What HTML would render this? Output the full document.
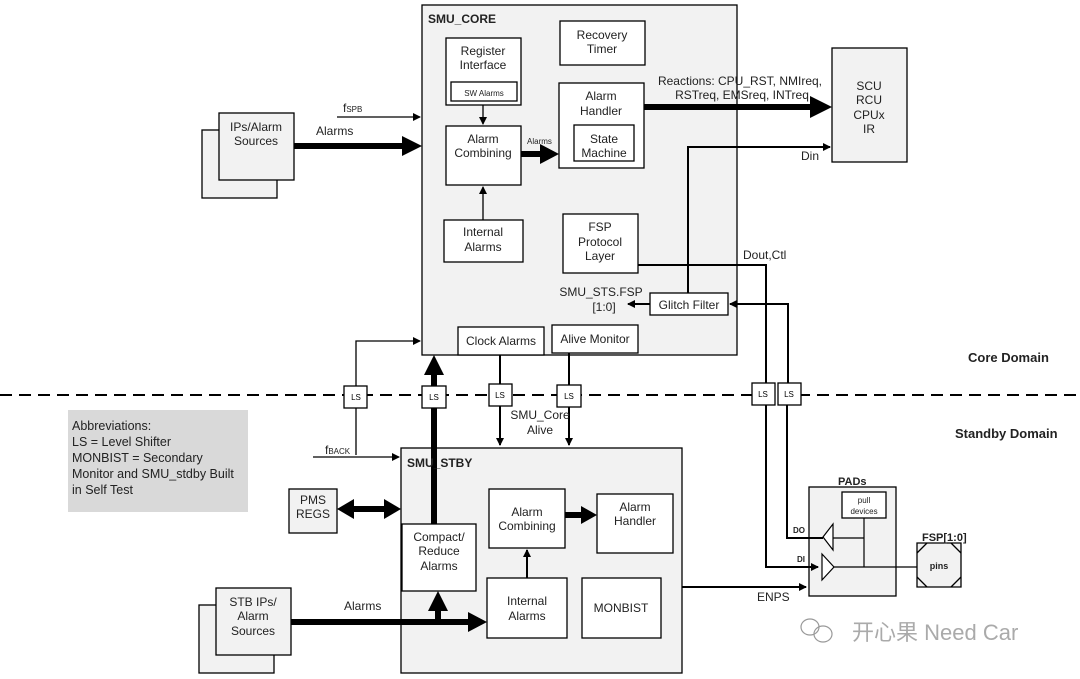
<!DOCTYPE html>
<html><head><meta charset="utf-8"><style>
html,body{margin:0;padding:0;background:#fff;}
svg{display:block;font-family:"Liberation Sans",Arial,sans-serif;}
</style></head><body>
<svg width="1080" height="679" viewBox="0 0 1080 679" xmlns="http://www.w3.org/2000/svg">
<defs>
<marker id="a" markerWidth="8" markerHeight="8" refX="7" refY="4" orient="auto" markerUnits="userSpaceOnUse"><path d="M0,0 L8,4 L0,8z" fill="#000"/></marker>
</defs>
<g fill="none" stroke="#000" stroke-width="1.3">
<rect x="422" y="5" width="315" height="350" fill="#f2f2f2"/>
<rect x="446" y="38" width="75" height="67" fill="#fff"/>
<rect x="451" y="82" width="66" height="19" fill="#fff"/>
<rect x="560" y="21" width="85" height="44" fill="#fff"/>
<rect x="559" y="83" width="85" height="85" fill="#fff"/>
<rect x="574" y="125" width="60" height="36" fill="#fff"/>
<rect x="446" y="126" width="75" height="59" fill="#fff"/>
<rect x="444" y="220" width="79" height="42" fill="#fff"/>
<rect x="563" y="214" width="75" height="59" fill="#fff"/>
<rect x="650" y="293" width="78" height="22" fill="#fff"/>
<rect x="458" y="327" width="86" height="28" fill="#fff"/>
<rect x="552" y="325" width="86" height="28" fill="#fff"/>
<rect x="202" y="130" width="75" height="68" fill="#f2f2f2"/>
<rect x="219" y="113" width="75" height="67" fill="#f2f2f2"/>
<rect x="832" y="48" width="75" height="114" fill="#f2f2f2"/>
<rect x="401" y="448" width="281" height="225" fill="#f2f2f2"/>
<rect x="289" y="489" width="48" height="44" fill="#f2f2f2"/>
<rect x="402" y="524" width="74" height="67" fill="#fff"/>
<rect x="489" y="489" width="76" height="59" fill="#fff"/>
<rect x="597" y="494" width="76" height="59" fill="#fff"/>
<rect x="487" y="578" width="80" height="60" fill="#fff"/>
<rect x="582" y="578" width="79" height="60" fill="#fff"/>
<rect x="199" y="605" width="75" height="68" fill="#f2f2f2"/>
<rect x="216" y="588" width="75" height="67" fill="#f2f2f2"/>
<rect x="809" y="487" width="87" height="109" fill="#f2f2f2"/>
<rect x="842" y="492" width="44" height="26" fill="#fff"/>
<path d="M917,543 H961 V587 H917 Z" fill="#f2f2f2"/>
<path d="M917,553 L927,543 M951,543 L961,553 M961,577 L951,587 M927,587 L917,577"/>
<path d="M337,117 H420" marker-end="url(#a)"/>
<path d="M483,105 V124" marker-end="url(#a)"/>
<path d="M483,220 V187" marker-end="url(#a)"/>
<path d="M356,455 V341 H420" marker-end="url(#a)"/>
<path d="M313,457 H399" marker-end="url(#a)"/>
<path d="M527,578 V550" marker-end="url(#a)" stroke-width="2"/>
</g>
<g fill="none" stroke="#000" stroke-width="2">
<path d="M638,265 H766 V567 H818" marker-end="url(#a)"/>
<path d="M788,395 V304 H730" marker-end="url(#a)"/>
<path d="M650,304 H628" marker-end="url(#a)"/>
<path d="M688,293 V147 H830" marker-end="url(#a)"/>
<path d="M787,400 V538 H823"/>
<path d="M500,355 V445" marker-end="url(#a)"/>
<path d="M569,353 V445" marker-end="url(#a)"/>
<path d="M682,587 H806" marker-end="url(#a)"/>
</g>
<g fill="none" stroke="#000" stroke-width="1.2">
<path d="M833,538 H864 M864,518 V567 M834,567 H917"/>
<path d="M823,537 L833,524 V550 Z" fill="#fff"/>
<path d="M834,567 L822,554 V580 Z" fill="#fff"/>
</g>
<g stroke="#000" stroke-width="6" fill="none">
<path d="M294,146 H404"/>
<path d="M521,154 H542"/>
<path d="M644,107 H812"/>
<path d="M434,524 V375"/>
<path d="M291,622 H470"/>
<path d="M438,622 V610"/>
<path d="M565,515 H583"/>
<path d="M352,509 H386"/>
</g>
<g fill="#000">
<path d="M402,136 L422,146 L402,156Z"/>
<path d="M540,144 L559,154 L540,164Z"/>
<path d="M810,96 L832,107 L810,118Z"/>
<path d="M424,375 L434,355 L444,375Z"/>
<path d="M468,612 L487,622 L468,632Z"/>
<path d="M428,611 L438,591 L448,611Z"/>
<path d="M581,506 L597,515 L581,524Z"/>
<path d="M337,509 L354,499 L354,519Z"/>
<path d="M401,509 L384,499 L384,519Z"/>
</g>
<path d="M0,395 H1080" stroke="#000" stroke-width="2" stroke-dasharray="12,7"/>
<g fill="#fff" stroke="#000" stroke-width="1.3">
<rect x="344" y="386" width="23" height="22"/>
<rect x="422" y="386" width="24" height="22"/>
<rect x="489" y="384" width="23" height="22"/>
<rect x="557" y="385" width="24" height="22"/>
<rect x="752" y="383" width="23" height="22"/>
<rect x="778" y="383" width="23" height="22"/>
</g>
<g font-size="8" text-anchor="middle" fill="#000">
<text x="356" y="400">LS</text><text x="434" y="400">LS</text><text x="500" y="398">LS</text><text x="569" y="399">LS</text><text x="763" y="397">LS</text><text x="789" y="397">LS</text>
</g>
<rect x="68" y="410" width="180" height="102" fill="#d9d9d9"/>
<g font-size="12.5" fill="#222">
<text x="72" y="430">Abbreviations:</text>
<text x="72" y="446">LS = Level Shifter</text>
<text x="72" y="462">MONBIST = Secondary</text>
<text x="72" y="478">Monitor and SMU_stdby Built</text>
<text x="72" y="494">in Self Test</text>
</g>
<g font-size="12" text-anchor="middle" fill="#222">
<text x="483" y="55">Register</text><text x="483" y="69">Interface</text>
<text x="484" y="96" font-size="8">SW Alarms</text>
<text x="602" y="39">Recovery</text><text x="602" y="53">Timer</text>
<text x="601" y="100">Alarm</text><text x="601" y="115">Handler</text>
<text x="604" y="143">State</text><text x="604" y="157">Machine</text>
<text x="483" y="143">Alarm</text><text x="483" y="157">Combining</text>
<text x="483" y="236">Internal</text><text x="483" y="251">Alarms</text>
<text x="600" y="231">FSP</text><text x="600" y="246">Protocol</text><text x="600" y="260">Layer</text>
<text x="689" y="309">Glitch Filter</text>
<text x="501" y="345">Clock Alarms</text>
<text x="595" y="343">Alive Monitor</text>
<text x="256" y="131">IPs/Alarm</text><text x="256" y="145">Sources</text>
<text x="869" y="90">SCU</text><text x="869" y="104">RCU</text><text x="869" y="119">CPUx</text><text x="869" y="133">IR</text>
<text x="740" y="85">Reactions: CPU_RST, NMIreq,</text>
<text x="742" y="99">RSTreq, EMSreq, INTreq</text>
<text x="601" y="296">SMU_STS.FSP</text><text x="604" y="311">[1:0]</text>
<text x="540" y="419">SMU_Core</text><text x="540" y="434">Alive</text>
<text x="313" y="504">PMS</text><text x="313" y="518">REGS</text>
<text x="439" y="541">Compact/</text><text x="439" y="555">Reduce</text><text x="439" y="570">Alarms</text>
<text x="527" y="516">Alarm</text><text x="527" y="530">Combining</text>
<text x="635" y="511">Alarm</text><text x="635" y="525">Handler</text>
<text x="527" y="605">Internal</text><text x="527" y="620">Alarms</text>
<text x="621" y="612">MONBIST</text>
<text x="253" y="606">STB IPs/</text><text x="253" y="620">Alarm</text><text x="253" y="635">Sources</text>
<text x="864" y="503" font-size="8">pull</text><text x="864" y="514" font-size="8">devices</text>
<text x="939" y="569" font-size="9" font-weight="bold">pins</text>
</g>
<g font-size="12" fill="#222">
<text x="316" y="135">Alarms</text>
<text x="343" y="112">f<tspan font-size="8">SPB</tspan></text>
<text x="527" y="144" font-size="8">Alarms</text>
<text x="801" y="160">Din</text>
<text x="743" y="259">Dout,Ctl</text>
<text x="325" y="454">f<tspan font-size="8">BACK</tspan></text>
<text x="344" y="610">Alarms</text>
<text x="757" y="601">ENPS</text>
<text x="428" y="23" font-weight="bold">SMU_CORE</text>
<text x="407" y="467" font-weight="bold">SMU_STBY</text>
<text x="968" y="362" font-weight="bold" font-size="13">Core Domain</text>
<text x="955" y="438" font-weight="bold" font-size="13">Standby Domain</text>
<text x="838" y="485" font-weight="bold" font-size="11">PADs</text>
<text x="922" y="541" font-weight="bold" font-size="11">FSP[1:0]</text>
<text x="793" y="533" font-weight="bold" font-size="8">DO</text>
<text x="797" y="562" font-weight="bold" font-size="8">DI</text>
</g>
<g fill="none" stroke="#999" stroke-width="1.2">
<ellipse cx="810" cy="627" rx="9" ry="8"/><ellipse cx="823" cy="634" rx="9" ry="8"/>
</g>
<text x="852" y="640" font-size="22" fill="#aaa" font-family="'Liberation Sans','Noto Sans CJK SC',sans-serif">开心果 Need Car</text>
</svg>
</body></html>
